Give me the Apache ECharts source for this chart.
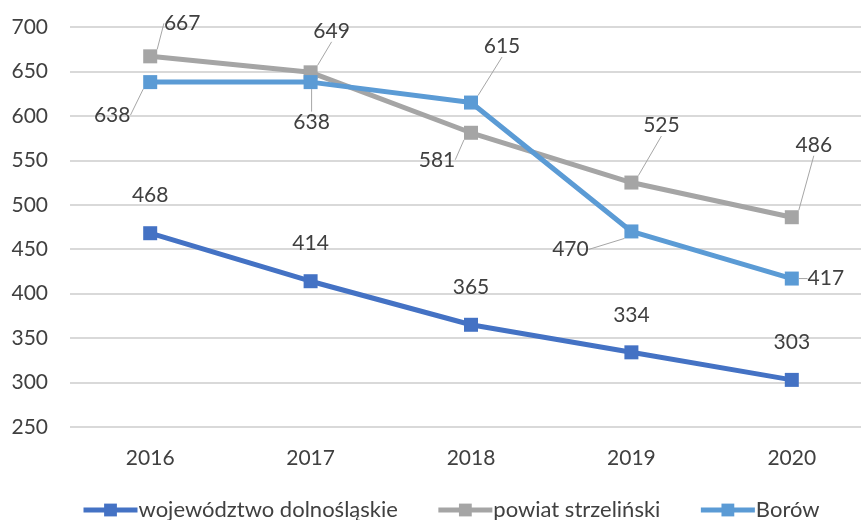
<!DOCTYPE html>
<html>
<head>
<meta charset="utf-8">
<script src="https://cdn.jsdelivr.net/npm/echarts@6/dist/echarts.min.js"></script>
<style>
  html, body { margin: 0; padding: 0; background: #fff; }
  #chart { width: 861px; height: 520px; }
</style>
</head>
<body>
<div id="chart"></div>
<script>
// Years on the category axis
const years = ['2016', '2017', '2018', '2019', '2020'];
// Series values
const wojewodztwo = [468, 414, 365, 334, 303];
const powiat = [667, 649, 581, 525, 486];
const borow = [638, 638, 615, 470, 417];
// Value axis range
const yMin = 250, yMax = 700, yStep = 50;

// Label placement (pixel offsets from each point), per series
const powiatOffsets = [[32, -33], [21, -41], [-34, 27], [30, -57], [22, -72]];
const borowOffsets = [[-38, 33], [1, 40], [31, -56], [-61, 18], [34, 0]];

const FONT = 'Lato, "Open Sans", sans-serif';
const TXT = '#404040';

function offsetLayout(offsets) {
  return function (p) {
    const o = offsets[p.dataIndex];
    return { dx: o[0], dy: o[1] };
  };
}

const leader = { show: true, lineStyle: { color: '#a6a6a6', width: 1 } };

function lineSeries(name, data, color, extra) {
  return Object.assign({
    name: name,
    type: 'line',
    data: data,
    symbol: 'rect',
    symbolSize: 14,
    lineStyle: { color: color, width: 5 },
    itemStyle: { color: color },
    emphasis: { disabled: true },
    animation: false
  }, extra);
}

const labelFont = { fontSize: 21, fontFamily: FONT, color: TXT };

const chart = echarts.init(document.getElementById('chart'), null, { renderer: 'canvas' });
chart.setOption({
  backgroundColor: '#fff',
  textStyle: { fontFamily: FONT },
  grid: { left: 70, width: 802, top: 27, height: 400, containLabel: false, outerBoundsMode: 'none' },
  legend: {
    top: 494,
    left: 76,
    itemWidth: 54,
    itemHeight: 16,
    itemGap: 38,
    lineStyle: { width: 5 },
    textStyle: { fontSize: 22, color: TXT, fontFamily: FONT, padding: [0, 0, 0, -4] },
    data: ['województwo dolnośląskie', 'powiat strzeliński', 'Borów']
  },
  xAxis: {
    type: 'category',
    data: years,
    boundaryGap: true,
    axisLine: { show: false },
    axisTick: { show: false },
    axisLabel: { fontSize: 21, color: TXT, margin: 21, fontFamily: FONT }
  },
  yAxis: {
    type: 'value',
    min: yMin,
    max: yMax,
    interval: yStep,
    axisLine: { show: false },
    axisTick: { show: false },
    axisLabel: { fontSize: 21, color: TXT, margin: 22, fontFamily: FONT },
    splitLine: { lineStyle: { color: '#d9d9d9', width: 2 } }
  },
  series: [
    lineSeries('województwo dolnośląskie', wojewodztwo, '#4472c4', {
      label: Object.assign({ show: true, position: 'top', distance: 20 }, labelFont),
      z: 4
    }),
    lineSeries('powiat strzeliński', powiat, '#a5a5a5', {
      label: Object.assign({ show: true, position: 'inside' }, labelFont),
      labelLayout: offsetLayout(powiatOffsets),
      labelLine: leader,
      z: 2
    }),
    lineSeries('Borów', borow, '#5b9bd5', {
      label: Object.assign({ show: true, position: 'inside' }, labelFont),
      labelLayout: offsetLayout(borowOffsets),
      labelLine: leader,
      z: 3
    })
  ]
});
</script>
</body>
</html>
